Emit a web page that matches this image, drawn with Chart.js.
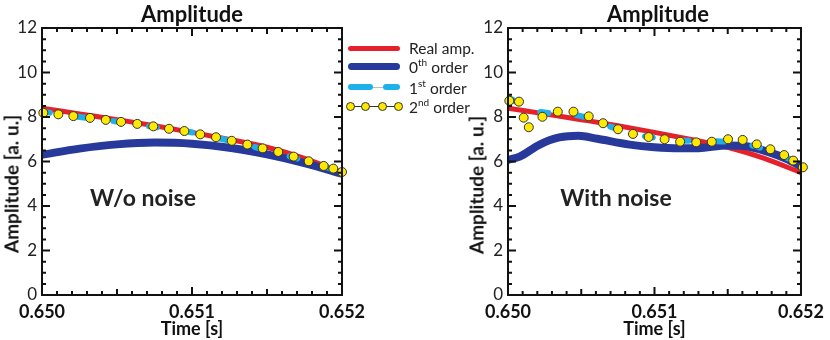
<!DOCTYPE html>
<html>
<head>
<meta charset="utf-8">
<script src="https://cdn.jsdelivr.net/npm/chart.js@4.4.1/dist/chart.umd.min.js"></script>
<style>
  body { margin: 0; background: #fff; font-family: Lato, "Open Sans", sans-serif; }
  #wrap { position: relative; width: 830px; height: 340px; overflow: hidden; }
  canvas { position: absolute; top: 0; }
  .lbl { position: absolute; transform: translate(-50%, -50%); white-space: nowrap; color: #111; }
  .title { font-weight: bold; font-size: 22px; }
  .ytitle { font-weight: bold; font-size: 19px; transform: translate(-50%, -50%) rotate(-90deg); }
  .note { font-weight: bold; font-size: 23px; color: #222; }
  .legend { position: absolute; left: 345px; top: 36px; width: 135px; height: 80px; font-size: 15.5px; color: #222; }
  .legend .row { position: absolute; left: 64px; transform: translateY(-50%); white-space: nowrap; }
  .legend sup { font-size: 10px; }
  .legend .mk { position: absolute; }
</style>
</head>
<body>
<div id="wrap">
  <canvas id="leftChart" width="380" height="340" style="left:0"></canvas>
  <canvas id="rightChart" width="364" height="340" style="left:466px"></canvas>

  <div class="lbl title" style="left:192px; top:13px">Amplitude</div>
  <div class="lbl title" style="left:658px; top:13px">Amplitude</div>
  <div class="lbl ytitle" style="left:11px; top:184px">Amplitude [a. u.]</div>
  <div class="lbl ytitle" style="left:476px; top:185px">Amplitude [a. u.]</div>
  <div class="lbl note" style="left:143px; top:197px">W/o noise</div>
  <div class="lbl note" style="left:616px; top:197px">With noise</div>

  <div class="legend">
    <div class="mk" style="left:3px; top:10px; width:52px; height:5px; background:#e5222b; border-radius:3px"></div>
    <div class="mk" style="left:3px; top:26.5px; width:52px; height:7px; background:#27399a; border-radius:4px"></div>
    <div class="mk" style="left:5px; top:50.5px; width:48px; height:1px; background:#bbb"></div>
    <div class="mk" style="left:3px; top:48px; width:25px; height:6px; background:#1eb0ea; border-radius:3px"></div>
    <div class="mk" style="left:38px; top:48px; width:17px; height:6px; background:#1eb0ea; border-radius:3px"></div>
    <div class="mk" style="left:5px; top:69.5px; width:48px; height:1px; background:#333"></div>
    <div class="mk" style="left:1px; top:66px; width:7px; height:7px; background:#ffe900; border:1px solid #333; border-radius:50%"></div>
    <div class="mk" style="left:16px; top:66px; width:7px; height:7px; background:#ffe900; border:1px solid #333; border-radius:50%"></div>
    <div class="mk" style="left:33px; top:66px; width:7px; height:7px; background:#ffe900; border:1px solid #333; border-radius:50%"></div>
    <div class="mk" style="left:49px; top:66px; width:7px; height:7px; background:#ffe900; border:1px solid #333; border-radius:50%"></div>
    <div class="row" style="top:12px">Real amp.</div>
    <div class="row" style="top:30px">0<sup>th</sup> order</div>
    <div class="row" style="top:51px">1<sup>st</sup> order</div>
    <div class="row" style="top:70px">2<sup>nd</sup> order</div>
  </div>
</div>

<script>
// axis ticks
const xTicks = [0.650, 0.651, 0.652];
const yTicks = [0, 2, 4, 6, 8, 10, 12];

// real amplitude (same in both panels)
const realTime = [0.6500, 0.65025, 0.6505, 0.65075, 0.6510, 0.65125, 0.6515, 0.65175, 0.6520];
const realAmp = [8.40, 8.14, 7.88, 7.61, 7.31, 6.99, 6.64, 6.14, 5.50];

// W/o noise
const cleanOrd0Time = [0.6500, 0.65025, 0.6505, 0.65075, 0.6510, 0.65125, 0.6515, 0.65175, 0.6520];
const cleanOrd0 = [6.30, 6.58, 6.77, 6.85, 6.80, 6.62, 6.32, 5.93, 5.45];
const cleanOrd1Time = [0.6500, 0.65024, 0.65047, 0.65069, 0.65095, 0.65117, 0.65139, 0.65164, 0.65187, 0.6520];
const cleanOrd1 = [8.25, 8.01, 7.82, 7.60, 7.37, 7.06, 6.70, 6.25, 5.80, 5.50];
const cleanOrd2Time = [0.650009, 0.650109, 0.650209, 0.650320, 0.650425, 0.650527, 0.650635, 0.650742,
  0.650847, 0.650949, 0.651055, 0.651160, 0.651265, 0.651369, 0.651471, 0.651575, 0.651678,
  0.651778, 0.651878, 0.651942, 0.652000];
const cleanOrd2 = [8.19, 8.12, 8.04, 7.96, 7.87, 7.78, 7.69, 7.58, 7.47, 7.37, 7.22, 7.09, 6.93,
  6.76, 6.59, 6.43, 6.22, 6.01, 5.80, 5.68, 5.53];

// With noise
const noisyOrd0Time = [0.6500, 0.65008, 0.65021, 0.65035, 0.65048, 0.65061, 0.65083, 0.6510,
  0.65117, 0.6513, 0.6515, 0.65161, 0.65179, 0.6519, 0.6520];
const noisyOrd0 = [6.07, 6.22, 6.74, 7.08, 7.16, 7.02, 6.76, 6.64, 6.59, 6.60, 6.72, 6.70, 6.40, 6.12, 5.78];
const noisyOrd1Time = [0.6500, 0.65005, 0.6501, 0.65018, 0.65025, 0.65035, 0.65045, 0.65055, 0.65065,
  0.65075, 0.65085, 0.65095, 0.6511, 0.65125, 0.6514, 0.65155, 0.65168, 0.6518, 0.6519, 0.6520];
const noisyOrd1 = [8.88, 8.70, 8.45, 8.28, 8.20, 8.15, 8.10, 7.95, 7.68, 7.45, 7.25, 7.12, 6.98,
  6.93, 6.92, 6.85, 6.70, 6.45, 6.18, 5.80];
const noisyOrd2Time = [0.650009, 0.650075, 0.650107, 0.650142, 0.650235, 0.650340, 0.650447, 0.650551,
  0.650649, 0.650751, 0.650853, 0.650960, 0.651069, 0.651175, 0.651285, 0.651391, 0.651502,
  0.651602, 0.651698, 0.651791, 0.651885, 0.651947, 0.652013];
const noisyOrd2 = [8.73, 8.69, 7.97, 7.54, 8.01, 8.24, 8.24, 8.03, 7.72, 7.45, 7.24, 7.10, 7.00,
  6.89, 6.86, 6.89, 7.00, 6.97, 6.77, 6.55, 6.29, 6.04, 5.74];

const pts = (xs, ys) => xs.map((x, i) => ({ x: x, y: ys[i] }));

// box with inward ticks on all four sides
const framePlugin = {
  id: 'frame',
  afterDatasetsDraw(chart) {
    const { ctx, chartArea: a, scales: { x, y } } = chart;
    ctx.save();
    ctx.strokeStyle = '#111';
    ctx.lineWidth = 2;
    ctx.beginPath();
    for (let i = 0; i <= 20; i++) {
      const px = x.getPixelForValue(0.650 + i * 0.0001);
      const len = i % 10 === 0 ? 8 : (i % 5 === 0 ? 6 : 4);
      ctx.moveTo(px, a.bottom); ctx.lineTo(px, a.bottom - len);
      ctx.moveTo(px, a.top); ctx.lineTo(px, a.top + len);
    }
    for (let k = 0; k <= 24; k++) {
      const py = y.getPixelForValue(k * 0.5);
      const len = k % 4 === 0 ? 8 : 4;
      ctx.moveTo(a.left, py); ctx.lineTo(a.left + len, py);
      ctx.moveTo(a.right, py); ctx.lineTo(a.right - len, py);
    }
    ctx.stroke();
    ctx.strokeRect(a.left, a.top, a.right - a.left, a.bottom - a.top);
    ctx.restore();
  }
};

function makeChart(id, padRight, ord0, ord1, ord2) {
  const ctx = document.getElementById(id).getContext('2d');
  return new Chart(ctx, {
    type: 'line',
    data: {
      datasets: [
        { label: '2nd order', data: ord2, showLine: false, pointRadius: 4.5,
          pointBackgroundColor: '#ffe900', pointBorderColor: '#333', pointBorderWidth: 1, clip: false },
        { label: '1st order', data: ord1, borderColor: '#1eb0ea', borderWidth: 6, borderDash: [8, 28],
          borderCapStyle: 'round', pointRadius: 0, cubicInterpolationMode: 'monotone' },
        { label: '0th order', data: ord0, borderColor: '#27399a', borderWidth: 8,
          pointRadius: 0, cubicInterpolationMode: 'monotone' },
        { label: 'Real amp.', data: pts(realTime, realAmp), borderColor: '#e5222b', borderWidth: 5,
          pointRadius: 0, cubicInterpolationMode: 'monotone' }
      ]
    },
    options: {
      responsive: false,
      animation: false,
      layout: { padding: { left: 0, right: padRight, top: 28, bottom: 0 }, autoPadding: false },
      plugins: { legend: { display: false }, tooltip: { enabled: false } },
      scales: {
        x: {
          type: 'linear', min: 0.650, max: 0.652,
          afterBuildTicks: s => { s.ticks = xTicks.map(v => ({ value: v })); },
          afterFit: s => { s.height = 45; },
          grid: { display: false, drawTicks: false },
          border: { display: false },
          ticks: { padding: 6, autoSkip: false, maxRotation: 0, color: '#111',
            font: { family: 'Lato', size: 18, weight: 'bold' }, callback: v => v.toFixed(3) },
          title: { display: true, text: 'Time [s]', color: '#111', padding: { top: 0, bottom: 0 },
            font: { family: 'Lato', size: 18, weight: 'bold' } }
        },
        y: {
          min: 0, max: 12,
          afterBuildTicks: s => { s.ticks = yTicks.map(v => ({ value: v })); },
          afterFit: s => { s.width = 42; },
          grid: { display: false, drawTicks: false },
          border: { display: false },
          ticks: { padding: 5, color: '#222', font: { family: 'Lato', size: 17 } }
        }
      }
    },
    plugins: [framePlugin]
  });
}

makeChart('leftChart', 38, pts(cleanOrd0Time, cleanOrd0), pts(cleanOrd1Time, cleanOrd1), pts(cleanOrd2Time, cleanOrd2));
makeChart('rightChart', 22, pts(noisyOrd0Time, noisyOrd0), pts(noisyOrd1Time, noisyOrd1), pts(noisyOrd2Time, noisyOrd2));
</script>
</body>
</html>
